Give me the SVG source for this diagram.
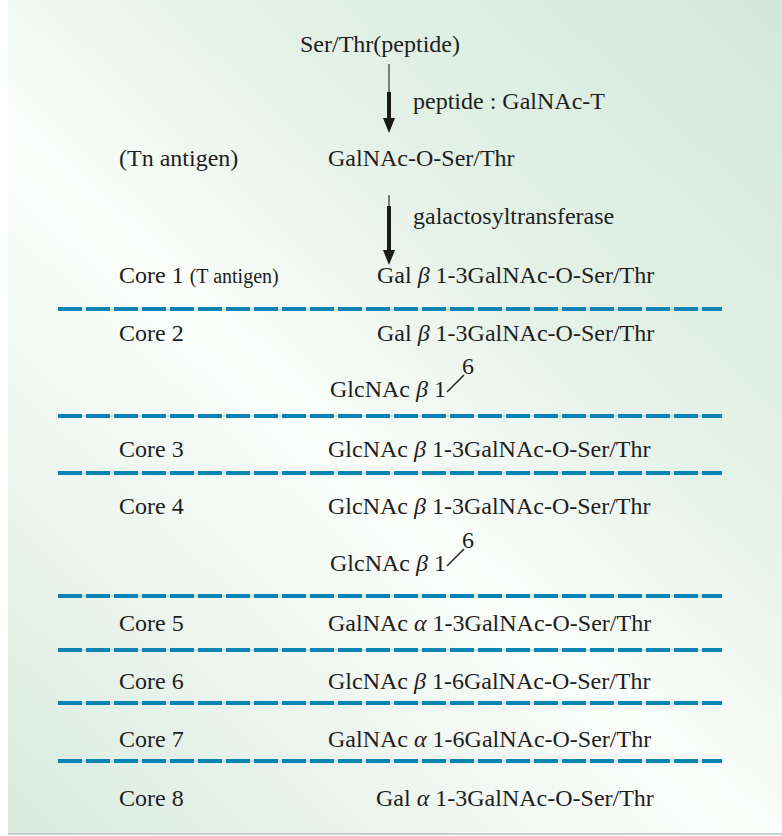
<svg xmlns="http://www.w3.org/2000/svg" width="782" height="836" viewBox="0 0 782 836">
<defs>
<linearGradient id="bg" x1="782" y1="0" x2="0" y2="836" gradientUnits="userSpaceOnUse">
<stop offset="0" stop-color="#d3e8d9"/>
<stop offset="0.35" stop-color="#e6f2e9"/>
<stop offset="0.55" stop-color="#fbfdfb"/>
<stop offset="0.75" stop-color="#edf5ef"/>
<stop offset="1" stop-color="#d7eadd"/>
</linearGradient>
</defs>
<style>
text{font-family:"Liberation Serif","Times New Roman",serif;fill:#1e1e1e;font-size:24px}
.sm{font-size:20px}
.gk{font-style:italic}
.dash{stroke:#0b84b5;stroke-width:4;stroke-dasharray:24 4}
.dashbg{stroke:#9ccbe0;stroke-width:1.2}
.thin{stroke:#7a7a7a;stroke-width:2}
.thick{stroke:#1a1a1a;stroke-width:4}
.link{stroke:#1e1e1e;stroke-width:1.5}
</style>
<rect x="0" y="0" width="782" height="836" fill="#ffffff"/>
<rect x="8" y="0" width="774" height="833" fill="url(#bg)"/>
<line x1="8" y1="834" x2="782" y2="834" stroke="#c8d0cc" stroke-width="2"/>

<g id="connectors">
<line class="thin" x1="389" y1="64" x2="389" y2="92"/>
<line class="thick" x1="389" y1="92" x2="389" y2="118"/>
<polygon points="383,118 395,118 389,133" fill="#1a1a1a"/>
<line class="thin" x1="389" y1="195" x2="389" y2="206"/>
<line class="thick" x1="389" y1="206" x2="389" y2="250"/>
<polygon points="383,250 395,250 389,265" fill="#1a1a1a"/>
</g>

<g id="separators">
<line class="dashbg" x1="58" y1="309" x2="722" y2="309"/><line class="dash" x1="58" y1="309" x2="722" y2="309"/>
<line class="dashbg" x1="58" y1="416" x2="722" y2="416"/><line class="dash" x1="58" y1="416" x2="722" y2="416"/>
<line class="dashbg" x1="58" y1="473" x2="722" y2="473"/><line class="dash" x1="58" y1="473" x2="722" y2="473"/>
<line class="dashbg" x1="58" y1="596" x2="722" y2="596"/><line class="dash" x1="58" y1="596" x2="722" y2="596"/>
<line class="dashbg" x1="58" y1="650" x2="722" y2="650"/><line class="dash" x1="58" y1="650" x2="722" y2="650"/>
<line class="dashbg" x1="58" y1="703" x2="722" y2="703"/><line class="dash" x1="58" y1="703" x2="722" y2="703"/>
<line class="dashbg" x1="58" y1="761" x2="722" y2="761"/><line class="dash" x1="58" y1="761" x2="722" y2="761"/>
</g>

<g id="n-peptide"><text x="300" y="52">Ser/Thr(peptide)</text></g>
<g id="n-enzyme1"><text x="413" y="109">peptide : GalNAc-T</text></g>
<g id="n-tn"><text x="119" y="166">(Tn antigen)</text><text x="328" y="166">GalNAc-O-Ser/Thr</text></g>
<g id="n-enzyme2"><text x="413" y="224">galactosyltransferase</text></g>
<g id="n-core1"><text x="119" y="283">Core 1 <tspan class="sm">(T antigen)</tspan></text><text x="377" y="283">Gal <tspan class="gk">β</tspan> 1-3GalNAc-O-Ser/Thr</text></g>
<g id="n-core2"><text x="119" y="341">Core 2</text><text x="377" y="341">Gal <tspan class="gk">β</tspan> 1-3GalNAc-O-Ser/Thr</text>
<text x="330" y="397">GlcNAc <tspan class="gk">β</tspan> 1</text><line class="link" x1="447" y1="392" x2="464" y2="375"/><text x="462" y="374">6</text></g>
<g id="n-core3"><text x="119" y="457">Core 3</text><text x="328" y="457">GlcNAc <tspan class="gk">β</tspan> 1-3GalNAc-O-Ser/Thr</text></g>
<g id="n-core4"><text x="119" y="514">Core 4</text><text x="328" y="514">GlcNAc <tspan class="gk">β</tspan> 1-3GalNAc-O-Ser/Thr</text>
<text x="330" y="571">GlcNAc <tspan class="gk">β</tspan> 1</text><line class="link" x1="447" y1="566" x2="464" y2="549"/><text x="462" y="548">6</text></g>
<g id="n-core5"><text x="119" y="631">Core 5</text><text x="328" y="631">GalNAc <tspan class="gk">α</tspan> 1-3GalNAc-O-Ser/Thr</text></g>
<g id="n-core6"><text x="119" y="689">Core 6</text><text x="328" y="689">GlcNAc <tspan class="gk">β</tspan> 1-6GalNAc-O-Ser/Thr</text></g>
<g id="n-core7"><text x="119" y="747">Core 7</text><text x="328" y="747">GalNAc <tspan class="gk">α</tspan> 1-6GalNAc-O-Ser/Thr</text></g>
<g id="n-core8"><text x="119" y="806">Core 8</text><text x="376" y="806">Gal <tspan class="gk">α</tspan> 1-3GalNAc-O-Ser/Thr</text></g>
</svg>
